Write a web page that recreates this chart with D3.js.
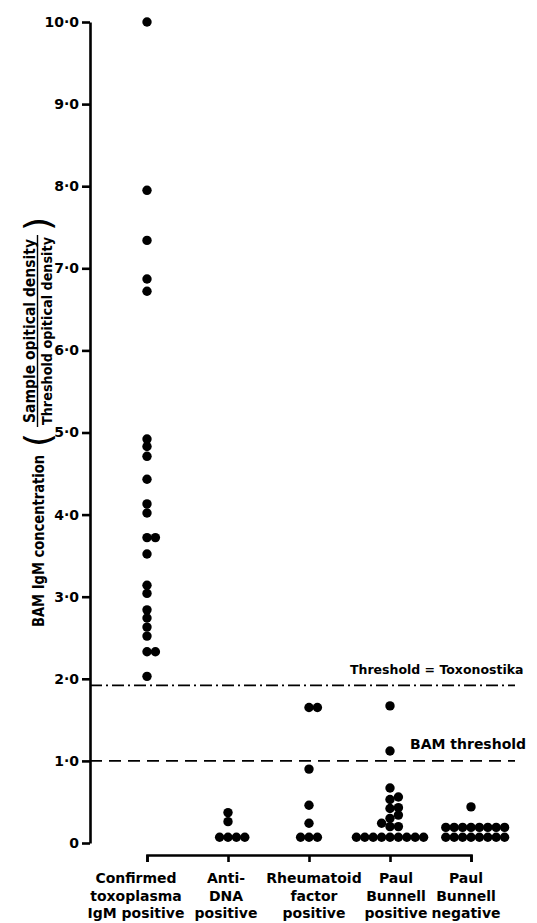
<!DOCTYPE html>
<html>
<head>
<meta charset="utf-8">
<script src="https://cdn.jsdelivr.net/npm/d3@7"></script>
<style>
  body { margin: 0; background: #fff; }
  text { font-family: "DejaVu Sans", sans-serif; font-weight: bold; fill: #000; }
</style>
</head>
<body>
<svg></svg>
<script>
// categories along the bottom
const categories = ["confirmed", "antiDNA", "rheumatoid", "pbPositive", "pbNegative"];
const categoryLabels = [
  ["Confirmed", "toxoplasma", "IgM positive"],
  ["Anti-", "DNA", "positive"],
  ["Rheumatoid", "factor", "positive"],
  ["Paul", "Bunnell", "positive"],
  ["Paul", "Bunnell", "negative"]
];

// BAM IgM ratio for each serum
const confirmedValues = [10.0, 7.95, 7.34, 6.87, 6.72, 4.92, 4.83, 4.71, 4.43, 4.13, 4.02,
  3.72, 3.72, 3.52, 3.14, 3.04, 2.84, 2.74, 2.63, 2.52, 2.33, 2.33, 2.03];
const antiDNAValues = [0.07, 0.07, 0.07, 0.07, 0.26, 0.37];
const rheumatoidValues = [0.07, 0.07, 0.07, 0.24, 0.46, 0.90, 1.65, 1.65];
const pbPositiveValues = [0.07, 0.07, 0.07, 0.07, 0.07, 0.07, 0.07, 0.07, 0.07,
  0.20, 0.20, 0.24, 0.30, 0.34, 0.42, 0.43, 0.53, 0.56, 0.67, 1.12, 1.67];
const pbNegativeValues = [0.07, 0.07, 0.07, 0.07, 0.07, 0.07, 0.07, 0.07,
  0.19, 0.19, 0.19, 0.19, 0.19, 0.19, 0.19, 0.19, 0.44];

const yTicks = [0, 1, 2, 3, 4, 5, 6, 7, 8, 9, 10];
const toxonostikaThreshold = 1.92;
const bamThreshold = 1.0;

const allValues = [confirmedValues, antiDNAValues, rheumatoidValues, pbPositiveValues, pbNegativeValues];

let svgWidth = 537, svgHeight = 923;
let dotR = 4.7, step = 8.4, minGap = 7;
let labelDx = [-11, -2, 5, 6, -5];

let svg = d3.select("svg")
  .attr("width", svgWidth)
  .attr("height", svgHeight);

let yScale = d3.scaleLinear().domain([0, 10]).range([843, 22]);
let xScale = d3.scalePoint().domain(categories).range([147, 471]);

// y axis
let yAxis = d3.axisLeft(yScale)
  .tickValues(yTicks)
  .tickSize(8)
  .tickSizeOuter(0)
  .tickPadding(3)
  .tickFormat(d => d === 0 ? "0" : d.toFixed(1).replace(".", "\u00b7"));

svg.append("g")
  .attr("transform", "translate(90,0)")
  .call(yAxis)
  .attr("font-family", null)
  .attr("font-size", 14)
  .call(g => g.select(".domain").attr("stroke-width", 2.6))
  .call(g => g.selectAll(".tick line").attr("stroke-width", 2.6));

// x axis (bracket under the groups)
let xAxis = d3.axisBottom(xScale).tickSize(7).tickSizeOuter(7).tickFormat("");
svg.append("g")
  .attr("transform", "translate(0,855)")
  .call(xAxis)
  .call(g => g.select(".domain").attr("stroke-width", 2.6))
  .call(g => g.selectAll(".tick line").attr("stroke-width", 2.6));

// category labels
svg.selectAll(".cat-label")
  .data(categories)
  .enter()
  .append("text")
  .attr("class", "cat-label")
  .attr("text-anchor", "middle")
  .attr("font-size", 14)
  .each(function (d, i) {
    d3.select(this).selectAll("tspan")
      .data(categoryLabels[i])
      .enter()
      .append("tspan")
      .attr("x", xScale(d) + labelDx[i])
      .attr("y", (t, j) => 883 + j * 17.5)
      .text(t => t);
  });

// threshold lines
svg.append("line")
  .attr("x1", 90).attr("x2", 515)
  .attr("y1", yScale(toxonostikaThreshold)).attr("y2", yScale(toxonostikaThreshold))
  .attr("stroke", "#000").attr("stroke-width", 1.6)
  .attr("stroke-dasharray", "12,4,2,4");

svg.append("line")
  .attr("x1", 90).attr("x2", 515)
  .attr("y1", yScale(bamThreshold)).attr("y2", yScale(bamThreshold))
  .attr("stroke", "#000").attr("stroke-width", 1.6)
  .attr("stroke-dasharray", "12,7");

svg.append("text")
  .attr("x", 350).attr("y", yScale(toxonostikaThreshold) - 11)
  .attr("font-size", 12.5)
  .text("Threshold = Toxonostika");

svg.append("text")
  .attr("x", 410).attr("y", yScale(bamThreshold) - 12)
  .attr("font-size", 14)
  .text("BAM threshold");

// dots: simple dodge so equal values sit side by side
function swarm(values, cx) {
  let placed = [];
  values.slice().sort((a, b) => a - b).forEach(v => {
    let py = yScale(v), k = 0, off = 0;
    while (true) {
      off = k === 0 ? 0 : (k % 2 ? 1 : -1) * Math.ceil(k / 2) * step;
      let px = cx + off;
      if (placed.every(p => Math.hypot(p.x - px, p.y - py) >= minGap)) break;
      k++;
    }
    placed.push({ x: cx + off, y: py });
  });
  return placed;
}

categories.forEach((c, i) => {
  svg.append("g")
    .selectAll("circle")
    .data(swarm(allValues[i], xScale(c)))
    .enter()
    .append("circle")
    .attr("cx", d => d.x)
    .attr("cy", d => d.y)
    .attr("r", dotR)
    .attr("fill", "#000");
});

// y axis title, written bottom to top
let title = svg.append("g").attr("transform", "rotate(-90)");

title.append("text")
  .attr("x", -627).attr("y", 44)
  .attr("font-size", 16)
  .attr("textLength", 172)
  .attr("lengthAdjust", "spacingAndGlyphs")
  .text("BAM  IgM concentration");

title.append("text")
  .attr("x", -440).attr("y", 50)
  .attr("text-anchor", "middle")
  .attr("font-size", 36)
  .style("font-weight", "normal")
  .text("(");

title.append("text")
  .attr("x", -224).attr("y", 50)
  .attr("text-anchor", "middle")
  .attr("font-size", 36)
  .style("font-weight", "normal")
  .text(")");

title.append("text")
  .attr("x", -331).attr("y", 35)
  .attr("text-anchor", "middle")
  .attr("font-size", 15)
  .attr("textLength", 184)
  .attr("lengthAdjust", "spacingAndGlyphs")
  .text("Sample opitical density");

title.append("line")
  .attr("x1", -427).attr("x2", -235)
  .attr("y1", 37.5).attr("y2", 37.5)
  .attr("stroke", "#000").attr("stroke-width", 1.4);

title.append("text")
  .attr("x", -331).attr("y", 51.5)
  .attr("text-anchor", "middle")
  .attr("font-size", 14.5)
  .attr("textLength", 188)
  .attr("lengthAdjust", "spacingAndGlyphs")
  .text("Threshold opitical density");
</script>
</body>
</html>
